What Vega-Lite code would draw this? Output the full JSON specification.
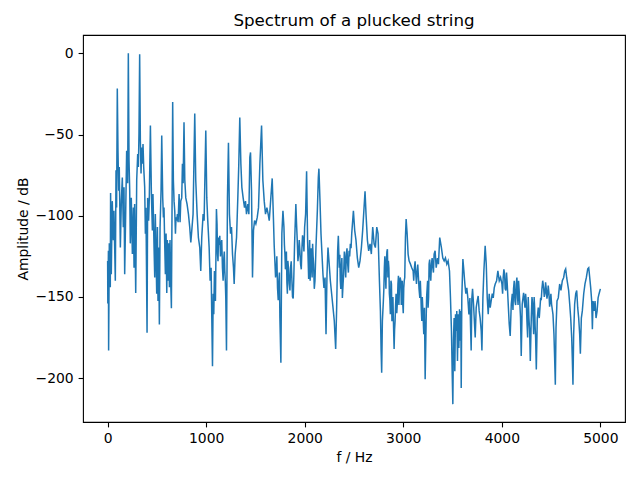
{
  "$schema": "https://vega.github.io/schema/vega-lite/v6.json",
  "width": 542,
  "height": 387,
  "autosize": {"type": "none"},
  "padding": {"left": 83, "top": 35, "right": 15, "bottom": 58},
  "background": "white",
  "title": {"text": "Spectrum of a plucked string", "font": "DejaVu Sans", "fontSize": 16.7, "fontWeight": "normal", "color": "#000000", "offset": 5, "anchor": "middle"},
  "config": {
    "view": {"stroke": "#000000", "strokeWidth": 1.1},
    "axis": {
      "grid": false, "domain": false,
      "labelFont": "DejaVu Sans", "labelFontSize": 13.9, "labelColor": "#000000",
      "titleFont": "DejaVu Sans", "titleFontSize": 13.9, "titleFontWeight": "normal", "titleColor": "#000000",
      "tickColor": "#000000", "tickSize": 4.9, "tickWidth": 1.1, "labelPadding": 4.9, "titlePadding": 5
    }
  },
  "data": {"values": [
{"f":0,"db":-127.8},{"f":2,"db":-154},{"f":8,"db":-121.6},{"f":10,"db":-183},{"f":17,"db":-117},{"f":27,"db":-144},{"f":30,"db":-86},{"f":37,"db":-136},{"f":47,"db":-91},{"f":58,"db":-115},{"f":64,"db":-97},{"f":78,"db":-140},{"f":85,"db":-72},{"f":91,"db":-95},{"f":98,"db":-21.6},{"f":105,"db":-60},{"f":112,"db":-84.6},{"f":118,"db":-70},{"f":129,"db":-119.6},{"f":139,"db":-91},{"f":149,"db":-76.5},{"f":159,"db":-107},{"f":166,"db":-82.5},{"f":173,"db":-136},{"f":183,"db":-99},{"f":193,"db":-60},{"f":203,"db":-80},{"f":210,"db":0},{"f":217,"db":-66},{"f":224,"db":-84.6},{"f":230,"db":-117},{"f":240,"db":-89},{"f":251,"db":-123.6},{"f":261,"db":-95},{"f":268,"db":-132},{"f":274,"db":-92.8},{"f":285,"db":-147.5},{"f":295,"db":-78},{"f":305,"db":-62},{"f":312,"db":-70},{"f":318,"db":-49.6},{"f":325,"db":-0.6},{"f":332,"db":-53.7},{"f":339,"db":-74},{"f":345,"db":-58},{"f":352,"db":-68},{"f":359,"db":-55.8},{"f":366,"db":-70},{"f":376,"db":-82.5},{"f":383,"db":-111},{"f":389,"db":-95},{"f":400,"db":-172},{"f":406,"db":-89},{"f":416,"db":-103},{"f":423,"db":-89},{"f":434,"db":-44.4},{"f":444,"db":-86.6},{"f":454,"db":-109},{"f":460,"db":-86.6},{"f":471,"db":-119.6},{"f":478,"db":-138},{"f":484,"db":-99},{"f":491,"db":-123.6},{"f":498,"db":-148},{"f":505,"db":-107},{"f":511,"db":-152.5},{"f":518,"db":-119.6},{"f":525,"db":-167},{"f":532,"db":-107},{"f":542,"db":-84.6},{"f":549,"db":-50.6},{"f":559,"db":-89},{"f":566,"db":-101},{"f":572,"db":-95},{"f":579,"db":-117},{"f":586,"db":-136},{"f":593,"db":-111},{"f":600,"db":-147.5},{"f":606,"db":-115},{"f":613,"db":-140},{"f":620,"db":-117},{"f":627,"db":-144},{"f":633,"db":-115},{"f":640,"db":-140},{"f":647,"db":-157},{"f":654,"db":-91},{"f":660,"db":-30},{"f":667,"db":-78},{"f":674,"db":-91},{"f":681,"db":-97},{"f":688,"db":-111},{"f":694,"db":-101},{"f":701,"db":-103},{"f":708,"db":-99},{"f":715,"db":-104},{"f":725,"db":-86.6},{"f":735,"db":-104},{"f":742,"db":-91},{"f":752,"db":-89},{"f":759,"db":-68},{"f":766,"db":-80},{"f":775,"db":-42.5},
{"f":783,"db":-78},{"f":793,"db":-89},{"f":806,"db":-92.8},{"f":820,"db":-99},{"f":833,"db":-107},{"f":844,"db":-116.5},{"f":854,"db":-109},{"f":867,"db":-99},{"f":884,"db":-37},{"f":894,"db":-78},{"f":908,"db":-99},{"f":921,"db":-113.4},{"f":935,"db":-119.6},{"f":945,"db":-134},{"f":955,"db":-113.4},{"f":969,"db":-99},{"f":979,"db":-103},{"f":996,"db":-47.5},{"f":1006,"db":-89},{"f":1016,"db":-103},{"f":1030,"db":-119.6},{"f":1040,"db":-140},{"f":1050,"db":-132},{"f":1057,"db":-163},{"f":1064,"db":-192.6},{"f":1071,"db":-148},{"f":1077,"db":-160.7},{"f":1084,"db":-134},{"f":1094,"db":-152.5},{"f":1104,"db":-95.8},{"f":1115,"db":-123.6},{"f":1125,"db":-113.4},{"f":1138,"db":-112.4},{"f":1152,"db":-117.3},{"f":1165,"db":-132},{"f":1179,"db":-126},{"f":1189,"db":-134},{"f":1199,"db":-150.6},{"f":1206,"db":-183},{"f":1216,"db":-89},{"f":1226,"db":-55},{"f":1236,"db":-99},{"f":1247,"db":-111},{"f":1257,"db":-107},{"f":1267,"db":-123.6},{"f":1277,"db":-132},{"f":1284,"db":-142},{"f":1294,"db":-123.6},{"f":1308,"db":-113.4},{"f":1321,"db":-89},{"f":1331,"db":-68},{"f":1341,"db":-39.5},{"f":1352,"db":-68},{"f":1362,"db":-82.5},{"f":1375,"db":-89},{"f":1389,"db":-95},{"f":1399,"db":-91},{"f":1409,"db":-99},{"f":1423,"db":-92.8},{"f":1433,"db":-99},{"f":1443,"db":-64},{"f":1450,"db":-61},{"f":1460,"db":-84.6},{"f":1470,"db":-138},{"f":1480,"db":-109},{"f":1491,"db":-103},{"f":1504,"db":-105},{"f":1518,"db":-101},{"f":1531,"db":-95},{"f":1545,"db":-68},{"f":1562,"db":-44.4},{"f":1575,"db":-78},{"f":1589,"db":-91},{"f":1602,"db":-99},{"f":1616,"db":-95},{"f":1629,"db":-99},{"f":1640,"db":-103},
{"f":1656,"db":-89},{"f":1670,"db":-77},{"f":1683,"db":-103},{"f":1697,"db":-127.8},{"f":1711,"db":-134},{"f":1724,"db":-144.4},{"f":1738,"db":-140},{"f":1748,"db":-163},{"f":1758,"db":-190.5},{"f":1768,"db":-111},{"f":1779,"db":-97},{"f":1789,"db":-107},{"f":1799,"db":-123.6},{"f":1809,"db":-129.8},{"f":1819,"db":-141},{"f":1829,"db":-127.8},{"f":1843,"db":-142},{"f":1856,"db":-132},{"f":1870,"db":-140},{"f":1883,"db":-151},{"f":1897,"db":-117.3},{"f":1910,"db":-92.8},{"f":1924,"db":-115},{"f":1938,"db":-123.6},{"f":1951,"db":-121.6},{"f":1958,"db":-129.8},{"f":1972,"db":-119.6},{"f":1985,"db":-115},{"f":1999,"db":-107},{"f":2009,"db":-99},{"f":2019,"db":-72.6},{"f":2029,"db":-115},{"f":2040,"db":-139},{"f":2050,"db":-115},{"f":2060,"db":-126},{"f":2070,"db":-132},{"f":2080,"db":-117.3},{"f":2090,"db":-129.8},{"f":2104,"db":-140},{"f":2114,"db":-119.6},{"f":2128,"db":-97},{"f":2138,"db":-76.5},{"f":2144,"db":-71},{"f":2155,"db":-91},{"f":2165,"db":-111},{"f":2175,"db":-123.6},{"f":2185,"db":-136},{"f":2195,"db":-144.4},{"f":2206,"db":-138},{"f":2216,"db":-173},{"f":2226,"db":-136},{"f":2236,"db":-119.6},{"f":2246,"db":-127.8},{"f":2260,"db":-140},{"f":2273,"db":-148},{"f":2287,"db":-156.6},{"f":2300,"db":-164.8},{"f":2314,"db":-182},{"f":2324,"db":-156.6},{"f":2334,"db":-121.6},{"f":2341,"db":-112.4},{"f":2351,"db":-132},{"f":2361,"db":-140},{"f":2371,"db":-132},{"f":2382,"db":-150.6},{"f":2395,"db":-136},{"f":2409,"db":-127.8},{"f":2422,"db":-123.6},{"f":2436,"db":-129.8},{"f":2450,"db":-121.6},{"f":2463,"db":-117.3},{"f":2477,"db":-111},{"f":2494,"db":-97},
{"f":2507,"db":-109},{"f":2520,"db":-115},{"f":2534,"db":-126},{"f":2548,"db":-132},{"f":2561,"db":-127.8},{"f":2575,"db":-119.6},{"f":2588,"db":-109},{"f":2602,"db":-95},{"f":2612,"db":-85},{"f":2622,"db":-99},{"f":2636,"db":-115},{"f":2649,"db":-121.6},{"f":2663,"db":-117.3},{"f":2676,"db":-123.6},{"f":2690,"db":-107},{"f":2704,"db":-117.3},{"f":2717,"db":-119.6},{"f":2731,"db":-107},{"f":2744,"db":-111},{"f":2758,"db":-140},{"f":2768,"db":-158.6},{"f":2775,"db":-183},{"f":2781,"db":-196.7},{"f":2788,"db":-164.8},{"f":2798,"db":-152.5},{"f":2808,"db":-132},{"f":2819,"db":-136},{"f":2829,"db":-127.8},{"f":2839,"db":-120.6},{"f":2849,"db":-127.8},{"f":2859,"db":-148},{"f":2869,"db":-160.7},{"f":2880,"db":-142},{"f":2890,"db":-156.6},{"f":2900,"db":-164.8},{"f":2907,"db":-182},{"f":2917,"db":-164.8},{"f":2927,"db":-148},{"f":2941,"db":-152.5},{"f":2951,"db":-137},{"f":2961,"db":-144.4},{"f":2975,"db":-140},{"f":2985,"db":-148},{"f":2995,"db":-154.5},{"f":3005,"db":-144.4},{"f":3015,"db":-138},{"f":3022,"db":-113.4},{"f":3029,"db":-102},{"f":3039,"db":-111},{"f":3049,"db":-123.6},{"f":3059,"db":-127.8},{"f":3073,"db":-129.8},{"f":3086,"db":-132},{"f":3100,"db":-134},{"f":3113,"db":-132},{"f":3127,"db":-136},{"f":3141,"db":-134},{"f":3154,"db":-138},{"f":3168,"db":-150.6},{"f":3178,"db":-148},{"f":3188,"db":-164.8},{"f":3198,"db":-156.6},{"f":3208,"db":-173},{"f":3215,"db":-156.6},{"f":3222,"db":-200.6},{"f":3232,"db":-164.8},{"f":3242,"db":-145},{"f":3252,"db":-156.6},{"f":3262,"db":-129.8},{"f":3273,"db":-136},{"f":3286,"db":-129.8},{"f":3300,"db":-132},{"f":3313,"db":-123.6},{"f":3323,"db":-121.6},{"f":3334,"db":-132},{"f":3347,"db":-126},{"f":3357,"db":-129.8},{"f":3370,"db":-113.4},
{"f":3387,"db":-119.6},{"f":3401,"db":-126},{"f":3415,"db":-127.8},{"f":3428,"db":-126},{"f":3442,"db":-129.8},{"f":3455,"db":-127.8},{"f":3469,"db":-134},{"f":3479,"db":-150.6},{"f":3489,"db":-171},{"f":3496,"db":-195.7},{"f":3503,"db":-216},{"f":3509,"db":-177},{"f":3516,"db":-163},{"f":3523,"db":-195.7},{"f":3530,"db":-160.7},{"f":3537,"db":-171},{"f":3543,"db":-158.6},{"f":3550,"db":-189.5},{"f":3557,"db":-160.7},{"f":3564,"db":-181.4},{"f":3571,"db":-157.6},{"f":3577,"db":-177},{"f":3584,"db":-158.6},{"f":3588,"db":-206},{"f":3594,"db":-150.6},{"f":3605,"db":-126.7},{"f":3615,"db":-134},{"f":3625,"db":-142},{"f":3635,"db":-148},{"f":3645,"db":-144.4},{"f":3655,"db":-150.6},{"f":3666,"db":-160.7},{"f":3676,"db":-150.6},{"f":3682,"db":-166.7},{"f":3689,"db":-183},{"f":3696,"db":-150.6},{"f":3703,"db":-145},{"f":3713,"db":-154.5},{"f":3723,"db":-166.7},{"f":3730,"db":-175},{"f":3740,"db":-156.6},{"f":3750,"db":-152.5},{"f":3760,"db":-149.4},{"f":3770,"db":-158.6},{"f":3780,"db":-163},{"f":3791,"db":-171},{"f":3798,"db":-183},{"f":3808,"db":-150.6},{"f":3818,"db":-134},{"f":3831,"db":-118.5},{"f":3842,"db":-129.8},{"f":3852,"db":-150.6},{"f":3862,"db":-160.7},{"f":3872,"db":-148},{"f":3882,"db":-156.6},{"f":3892,"db":-152.5},{"f":3903,"db":-148},{"f":3913,"db":-150.6},{"f":3923,"db":-144.4},{"f":3933,"db":-142},{"f":3947,"db":-140},{"f":3960,"db":-134},{"f":3974,"db":-140},{"f":3987,"db":-138},{"f":4001,"db":-142},{"f":4014,"db":-138},{"f":4028,"db":-136},{"f":4041,"db":-146},{"f":4055,"db":-142},{"f":4065,"db":-154.5},{"f":4075,"db":-166.7},{"f":4085,"db":-174},{"f":4096,"db":-154.5},{"f":4106,"db":-148},{"f":4119,"db":-145},{"f":4133,"db":-152.5},{"f":4146,"db":-142},{"f":4160,"db":-150.6},{"f":4170,"db":-140},{"f":4180,"db":-150.6},{"f":4190,"db":-163},{"f":4197,"db":-186.4},{"f":4207,"db":-154.5},{"f":4221,"db":-147.5},
{"f":4235,"db":-156.6},{"f":4248,"db":-152.5},{"f":4262,"db":-175},{"f":4275,"db":-163},{"f":4289,"db":-189.5},{"f":4299,"db":-163},{"f":4313,"db":-154.5},{"f":4323,"db":-173},{"f":4333,"db":-156.6},{"f":4343,"db":-175},{"f":4350,"db":-194.6},{"f":4360,"db":-163},{"f":4370,"db":-156.6},{"f":4380,"db":-163},{"f":4394,"db":-150.6},{"f":4407,"db":-145},{"f":4424,"db":-144.4},{"f":4438,"db":-148},{"f":4451,"db":-145},{"f":4465,"db":-148},{"f":4478,"db":-147.5},{"f":4492,"db":-152.5},{"f":4505,"db":-154.5},{"f":4519,"db":-160.7},{"f":4529,"db":-173},{"f":4536,"db":-187.6},{"f":4543,"db":-204},{"f":4550,"db":-169},{"f":4560,"db":-152.5},{"f":4573,"db":-150.6},{"f":4587,"db":-142},{"f":4600,"db":-146},{"f":4614,"db":-140},{"f":4628,"db":-138},{"f":4638,"db":-134},{"f":4648,"db":-132.7},{"f":4658,"db":-138},{"f":4668,"db":-142},{"f":4678,"db":-146},{"f":4689,"db":-154.5},{"f":4699,"db":-163},{"f":4709,"db":-175},{"f":4716,"db":-189.5},{"f":4722,"db":-204},{"f":4729,"db":-173},{"f":4739,"db":-154.5},{"f":4750,"db":-148},{"f":4760,"db":-146},{"f":4770,"db":-156.6},{"f":4780,"db":-163},{"f":4790,"db":-173},{"f":4797,"db":-185},{"f":4807,"db":-163},{"f":4817,"db":-158.6},{"f":4831,"db":-148},{"f":4844,"db":-142},{"f":4858,"db":-138},{"f":4872,"db":-132.7},{"f":4882,"db":-132},{"f":4892,"db":-138},{"f":4902,"db":-144.4},{"f":4912,"db":-152.5},{"f":4919,"db":-169.8},{"f":4926,"db":-152.5},{"f":4936,"db":-158.6},{"f":4946,"db":-152.5},{"f":4956,"db":-163},{"f":4967,"db":-158.6},{"f":4977,"db":-150.6},{"f":4987,"db":-148},{"f":5000,"db":-145},
{"f":1690,"db":-118},{"f":1704,"db":-138},{"f":1717,"db":-125},{"f":1731,"db":-152},{"f":1743,"db":-135},{"f":1794,"db":-118},{"f":1804,"db":-133},{"f":1814,"db":-122},{"f":1824,"db":-148},{"f":1836,"db":-133},{"f":1850,"db":-146},{"f":1863,"db":-128},{"f":1876,"db":-150},{"f":1890,"db":-136},
{"f":2803,"db":-145},{"f":2813,"db":-125},{"f":2824,"db":-145},{"f":2834,"db":-122},{"f":2844,"db":-138},{"f":2854,"db":-132},{"f":2864,"db":-152},{"f":2875,"db":-140},{"f":2885,"db":-165},{"f":2895,"db":-150},{"f":2912,"db":-170},{"f":2922,"db":-155},{"f":2934,"db":-160},{"f":2946,"db":-142},{"f":2956,"db":-155},{"f":2968,"db":-138},{"f":2980,"db":-155},{"f":2990,"db":-140},{"f":3000,"db":-160},{"f":3010,"db":-140},
{"f":3106,"db":-140},{"f":3120,"db":-128},{"f":3134,"db":-142},{"f":3147,"db":-130},{"f":3160,"db":-145},{"f":3173,"db":-140},{"f":3183,"db":-158},{"f":3193,"db":-150},{"f":3203,"db":-165},{"f":3237,"db":-150},{"f":3247,"db":-140},{"f":3257,"db":-150},{"f":3268,"db":-127},{"f":3279,"db":-140},{"f":3293,"db":-126},{"f":3306,"db":-135},
{"f":1110,"db":-105},{"f":1120,"db":-128},{"f":1132,"db":-118},{"f":1145,"db":-125},{"f":1158,"db":-115},{"f":1172,"db":-140},{"f":1184,"db":-122},{"f":1194,"db":-140},
{"f":4241,"db":-148},{"f":4255,"db":-165},{"f":4268,"db":-150},{"f":4282,"db":-170},{"f":4306,"db":-150},{"f":4318,"db":-165},{"f":4328,"db":-150},{"f":4338,"db":-168},
{"f":4008,"db":-148},{"f":4021,"db":-133},{"f":4034,"db":-145},{"f":4048,"db":-135},{"f":4113,"db":-158},{"f":4126,"db":-140},{"f":4140,"db":-155},{"f":4153,"db":-138},{"f":4165,"db":-155},{"f":4175,"db":-145},
{"f":4400,"db":-152},{"f":4415,"db":-140},{"f":4431,"db":-150},{"f":4444,"db":-141},{"f":4458,"db":-151},{"f":4471,"db":-143},{"f":4485,"db":-156},{"f":4498,"db":-148},
{"f":2329,"db":-140},{"f":2356,"db":-124},{"f":2366,"db":-145},{"f":2377,"db":-126},{"f":2389,"db":-142},{"f":2402,"db":-122},{"f":2416,"db":-138},{"f":2429,"db":-120},{"f":2443,"db":-135},{"f":2456,"db":-125},{"f":2470,"db":-120},
{"f":1917,"db":-105},{"f":1931,"db":-128},{"f":1944,"db":-115},{"f":1965,"db":-133},{"f":1978,"db":-112},{"f":1992,"db":-122},
{"f":2045,"db":-125},{"f":2055,"db":-140},{"f":2065,"db":-120},{"f":2075,"db":-138},{"f":2085,"db":-125},{"f":2097,"db":-145},{"f":2109,"db":-130}
  ]},
  "mark": {"type": "line", "color": "#1f77b4", "strokeWidth": 1.5, "interpolate": "linear"},
  "encoding": {
    "x": {"field": "f", "type": "quantitative", "scale": {"domain": [-250, 5250], "nice": false, "zero": false}, "axis": {"title": "f / Hz", "values": [0, 1000, 2000, 3000, 4000, 5000], "format": "d"}},
    "y": {"field": "db", "type": "quantitative", "scale": {"domain": [-227, 11.3], "nice": false, "zero": false}, "axis": {"title": "Amplitude / dB", "values": [-200, -150, -100, -50, 0]}}
  }
}
